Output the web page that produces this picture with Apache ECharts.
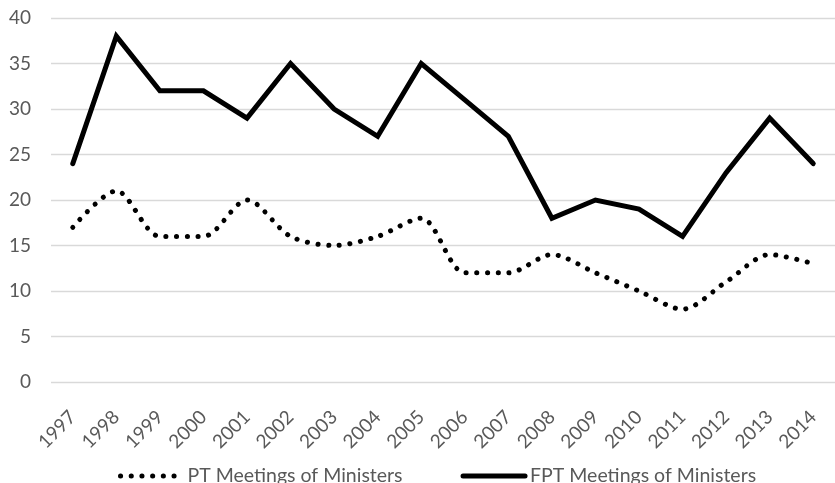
<!DOCTYPE html>
<html>
<head>
<meta charset="utf-8">
<script src="https://cdn.jsdelivr.net/npm/echarts@6/dist/echarts.min.js"></script>
<style>
  html, body { margin: 0; padding: 0; background: #ffffff; }
  #chart { width: 835px; height: 483px; }
</style>
</head>
<body>
<div id="chart"></div>
<script>
// Meetings of ministers per year
const years = ['1997','1998','1999','2000','2001','2002','2003','2004','2005',
               '2006','2007','2008','2009','2010','2011','2012','2013','2014'];
const ptMeetings  = [17, 21, 16, 16, 20, 16, 15, 16, 18, 12, 12, 14, 12, 10, 8, 11, 14, 13];
const fptMeetings = [24, 38, 32, 32, 29, 35, 30, 27, 35, 31, 27, 18, 20, 19, 16, 23, 29, 24];
const yTicks = { min: 0, max: 40, step: 5 };
const seriesNames = ['PT Meetings of Ministers', 'FPT Meetings of Ministers'];

const FONT = 'Lato';
const chart = echarts.init(document.getElementById('chart'), null, { renderer: 'canvas' });

chart.setOption({
  animation: false,
  backgroundColor: '#ffffff',
  grid: { left: 51, right: -5, top: 18, bottom: 101, containLabel: false },
  legend: {
    top: 461,
    left: 113,
    itemWidth: 62,
    itemHeight: 14,
    itemGap: 58,
    itemStyle: { opacity: 0 },
    lineStyle: { width: 5 },
    textStyle: { fontFamily: FONT, fontSize: 19.5, color: '#595959' },
    data: seriesNames
  },
  xAxis: {
    type: 'category',
    data: years,
    boundaryGap: true,
    axisLine: { show: false },
    axisTick: { show: false },
    axisLabel: {
      rotate: 45,
      margin: 32,
      interval: 0,
      fontFamily: FONT,
      fontSize: 19,
      color: '#595959'
    }
  },
  yAxis: {
    type: 'value',
    min: yTicks.min,
    max: yTicks.max,
    interval: yTicks.step,
    axisLine: { show: false },
    axisTick: { show: false },
    axisLabel: { margin: 20, fontFamily: FONT, fontSize: 19, color: '#595959' },
    splitLine: { lineStyle: { color: '#d9d9d9', width: 1.3 } }
  },
  series: [
    {
      name: seriesNames[0],
      type: 'line',
      data: ptMeetings,
      smooth: 0.3,
      symbol: 'none',
      lineStyle: { color: '#000000', width: 5, type: [0.1, 10.6], cap: 'round' },
      itemStyle: { color: '#000000' }
    },
    {
      name: seriesNames[1],
      type: 'line',
      data: fptMeetings,
      smooth: false,
      symbol: 'none',
      lineStyle: { color: '#000000', width: 5, cap: 'round', join: 'miter' },
      itemStyle: { color: '#000000' }
    }
  ]
});
</script>
</body>
</html>
